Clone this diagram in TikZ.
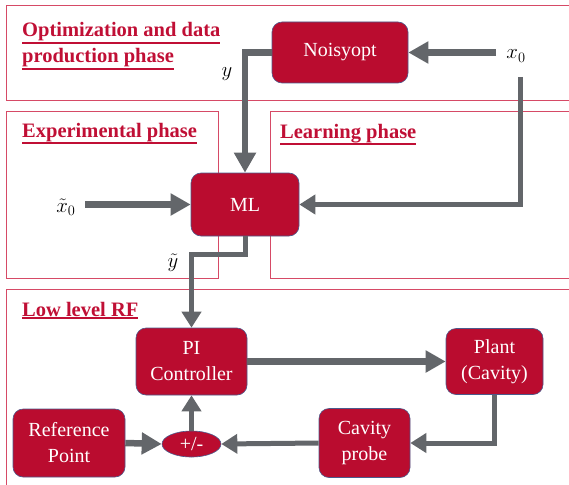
\documentclass[tikz,border=0pt]{standalone}
\usepackage{amssymb,amsmath}
\usepackage{fontspec}
\setmainfont{Liberation Serif}
\newfontfamily\timesfont{Liberation Serif}
\usepackage{tikz}
\usetikzlibrary{arrows.meta,backgrounds}
\usepgflibrary{shapes}

\definecolor{boxred}{HTML}{BA0C2F}
\definecolor{boxedge}{HTML}{4B5A8C}
\definecolor{arrowgray}{HTML}{63666A}
\definecolor{framered}{HTML}{D64A66}
\definecolor{titlered}{HTML}{C00F35}

\newcommand{\phaseline}[1]{\leavevmode\vtop{\hbox{#1}\kern0.8pt\hrule height 1.6pt}}

\tikzset{
  block/.style={rectangle, rounded corners=10pt, draw=boxedge, line width=0.6pt,
    fill=boxred, text=white, align=center, inner sep=0pt,
    font=\timesfont\fontsize{20}{26}\selectfont},
  phase/.style={draw=framered, line width=0.9pt},
  title/.style={anchor=base west, inner sep=0pt, text=titlered,
    font=\timesfont\fontsize{20.5}{26}\selectfont\bfseries},
  flow/.style={draw=arrowgray, line width=6.5pt, -{Triangle[length=20pt,width=21pt]}},
  thinflow/.style={draw=arrowgray, line width=5pt, -{Triangle[length=16pt,width=19pt]}},
  sig/.style={inner sep=2pt, font=\fontsize{21}{24}\selectfont}
}

\begin{document}
\begin{tikzpicture}[x=1pt,y=-1pt]
      \useasboundingbox (0,0) rectangle (569,484);
      \draw[phase] (585,5) -- (6,5) -- (6,100) -- (585,100);
      \draw[phase] (6,111) rectangle (218,278);
      \draw[phase] (585,111) -- (270,111) -- (270,278) -- (585,278);
      \draw[phase] (585,289) -- (6,289) -- (6,495);
      \node[title, name=opttitle] at (22,37) {\phaseline{Optimization and data}};
      \node[title, name=prodtitle] at (22,63) {\phaseline{production phase}};
      \node[title, name=exptitle] at (22,137) {\phaseline{Experimental phase}};
      \node[title, name=learntitle] at (280,138) {\phaseline{Learning phase}};
      \node[title, name=rftitle] at (22,316) {\phaseline{Low level RF}};
      \node[block, name=noisy, minimum width=136pt, minimum height=61pt] at (340,52.5) {Noisyopt};
      \node[block, name=ml, minimum width=108pt, minimum height=63pt] at (245,204.5) {ML};
      \node[block, name=pi, minimum width=111pt, minimum height=67pt] at (191.5,361.5) {PI\\Controller};
      \node[block, name=plant, minimum width=97pt, minimum height=66pt] at (494.5,361.5) {Plant\\(Cavity)};
      \node[block, name=refpt, minimum width=112pt, minimum height=68pt] at (69,443) {Reference\\Point};
      \node[block, name=probe, minimum width=91pt, minimum height=69pt] at (364.5,443) {Cavity\\probe};
      \node[block, ellipse, name=sum, minimum width=59pt, minimum height=26pt] at (191.5,444) {+/-};
      \node[sig, name=xzero] at (516,56) {$x_0$};
      \node[sig, name=yout] at (227,74) {$y$};
      \node[sig, name=xtilde] at (66,207) {$\tilde{x}_0$};
      \node[sig, name=ytilde] at (173,263) {$\tilde{y}$};
      \coordinate (drop) at (520,77);
      \draw[flow] (noisy.east -| 496,0) -- (noisy.east);
      \draw[flow] (noisy.west) -| (ml.north);
      \draw[thinflow] (drop) |- (ml.east);
      \draw[flow] (ml.west -| 85,0) -- (ml.west);
      \draw[thinflow] (ml.south) -- ++(0,18) -| (pi.north);
      \draw[flow] (pi.east) -- (plant.west);
      \draw[thinflow] (plant.south) |- (probe.east);
      \draw[thinflow] (probe.west) -- (sum.east);
      \draw[flow] (refpt.east) -- (sum.west);
      \draw[thinflow] (sum.north) -- (pi.south);
   \end{tikzpicture}
\end{document}
